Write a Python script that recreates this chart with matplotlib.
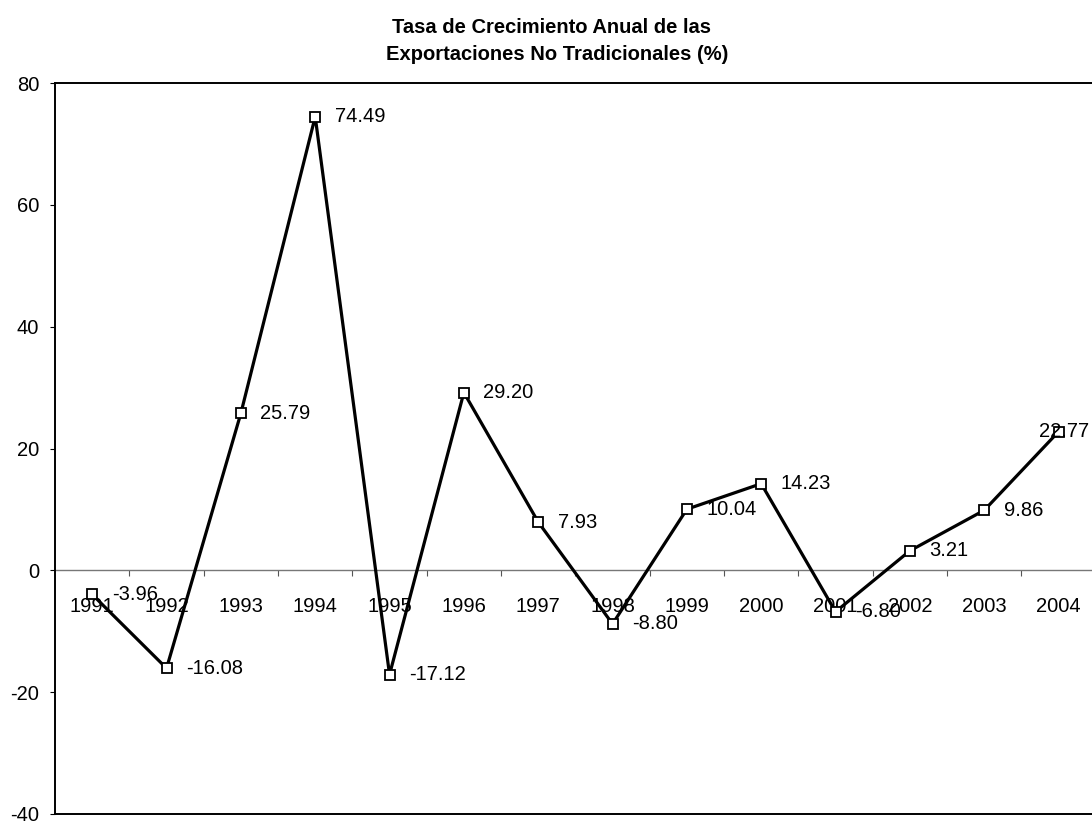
import numpy as np
import matplotlib
matplotlib.use("Agg")
import matplotlib.pyplot as plt

# datos
anios = ["1991", "1992", "1993", "1994", "1995", "1996", "1997",
         "1998", "1999", "2000", "2001", "2002", "2003", "2004"]
tasas = [-3.96, -16.08, 25.79, 74.49, -17.12, 29.20, 7.93,
         -8.80, 10.04, 14.23, -6.80, 3.21, 9.86, 22.77]
etiquetas = ["-3.96", "-16.08", "25.79", "74.49", "-17.12", "29.20", "7.93",
             "-8.80", "10.04", "14.23", "-6.80", "3.21", "9.86", "22.77"]
y_ticks = [-40, -20, 0, 20, 40, 60, 80]

plt.rcParams['font.family'] = ['Liberation Sans', 'DejaVu Sans']
plt.rcParams['axes.unicode_minus'] = False

fig = plt.figure(figsize=(10.92, 8.23), dpi=100)
ax = fig.add_axes([0.0504, 0.011, 0.953, 0.888])

x = np.arange(len(anios))
ax.plot(x, tasas, color='black', lw=2.3, marker='s', ms=7,
        mfc='white', mec='black', mew=1.3, zorder=3)

for i, (xi, v, lab) in enumerate(zip(x, tasas, etiquetas)):
    if i == len(anios) - 1:
        # la ultima etiqueta queda encima del marcador
        ax.annotate(lab, (xi, v), xytext=(4, 0), textcoords='offset points',
                    ha='center', va='center', fontsize=14.5, zorder=4)
    else:
        ax.annotate(lab, (xi, v), xytext=(14, 0), textcoords='offset points',
                    ha='left', va='center', fontsize=14.5, zorder=4)

ax.set_xlim(-0.5, len(anios) - 0.5)
ax.set_ylim(-40, 80)
ax.set_yticks(y_ticks)
ax.tick_params(axis='y', direction='out', length=3.5, width=0.8,
               labelsize=14.5, pad=8)
ax.set_xticks([])
ax.spines['right'].set_visible(False)
for s in ['left', 'top', 'bottom']:
    ax.spines[s].set_linewidth(1.4)

# eje de categorias sobre la linea de cero
sec = ax.secondary_xaxis(40 / 120)
sec.set_xticks(x, anios)
sec.set_xticks(np.arange(0.5, len(anios) - 0.5, 1), minor=True)
sec.tick_params(which='major', length=0, labelsize=14.5, pad=19)
sec.tick_params(which='minor', direction='out', length=4, width=0.8, color='#555555')
sec.spines['bottom'].set_color('#777777')
sec.spines['bottom'].set_linewidth(1.0)

titulo = dict(ha='center', va='center', fontsize=14.5, fontweight='bold')
fig.text(0.505, 0.966, "Tasa de Crecimiento Anual de las", **titulo)
fig.text(0.510, 0.934, "Exportaciones No Tradicionales (%)", **titulo)

fig.savefig("out.png", dpi=100)
